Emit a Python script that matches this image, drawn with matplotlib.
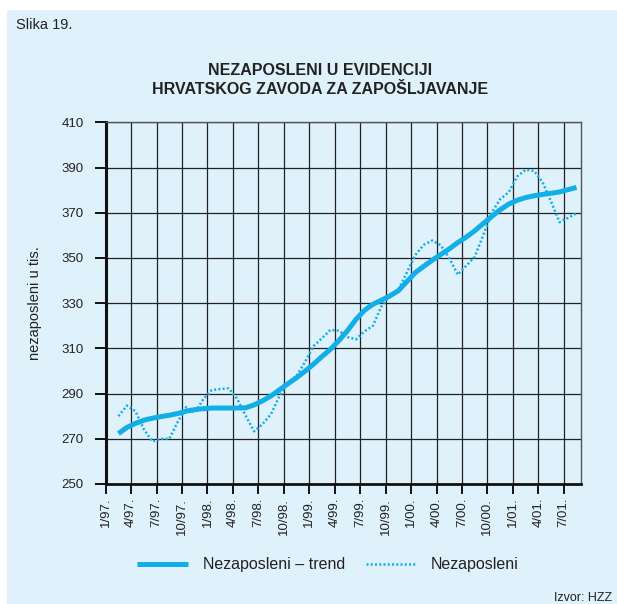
import matplotlib
matplotlib.use("Agg")
import matplotlib.pyplot as plt
import numpy as np
from matplotlib.patches import Rectangle

plt.rcParams["font.family"] = ["Liberation Sans", "DejaVu Sans"]

# monthly values, Feb 1997 - Aug 2001 (thousands)
unemployed = [
    280.0, 284.7, 282.2, 274.2, 268.8, 270.0, 270.0, 277.5, 284.0, 281.5,
    287.5, 291.5, 292.0, 292.3, 287.7, 280.2, 273.3, 276.5, 281.0, 289.0,
    295.0, 297.8, 304.0, 311.0, 314.5, 318.2, 317.8, 315.0, 314.0, 317.5,
    320.0, 328.5, 333.5, 336.0, 343.5, 351.3, 355.8, 357.7, 355.6, 350.0,
    342.6, 346.5, 350.5, 360.0, 370.0, 376.0, 379.0, 386.0, 389.0, 388.5,
    383.5, 375.0, 365.8, 367.7, 369.8,
]
trend = [
    272.3, 275.0, 276.8, 278.2, 279.1, 279.8, 280.4, 281.2, 282.2, 282.9,
    283.3, 283.6, 283.6, 283.6, 283.6, 283.7, 285.0, 286.8, 289.0, 291.7,
    294.4, 297.0, 299.9, 303.0, 306.4, 309.6, 313.5, 317.8, 322.8, 326.8,
    329.5, 331.3, 333.2, 335.5, 339.5, 343.5, 346.3, 349.0, 351.5, 354.0,
    356.8, 359.2, 362.0, 365.2, 368.3, 371.3, 373.8, 375.5, 376.7, 377.5,
    378.1, 378.6, 379.2, 380.2, 381.2,
]
first_month = 1  # months counted from Jan 1997 = 0
tick_labels = [
    "1/97.", "4/97.", "7/97.", "10/97.", "1/98.", "4/98.", "7/98.", "10/98.",
    "1/99.", "4/99.", "7/99.", "10/99.", "1/00.", "4/00.", "7/00.", "10/00.",
    "1/01.", "4/01.", "7/01.",
]
y_ticks = [250, 270, 290, 310, 330, 350, 370, 390, 410]

bg = "#dff1fb"
cyan = "#12aee8"

# months plotted at mid-month
months = first_month + np.arange(len(unemployed)) + 0.5

fig = plt.figure(figsize=(6.17, 6.04), dpi=100, facecolor="white")
panel = Rectangle((7 / 617, 0), 1, 1 - 10 / 604, transform=fig.transFigure,
                  facecolor=bg, edgecolor="none", zorder=-10)
fig.add_artist(panel)

ax = fig.add_axes([0.1713, 0.1987, 0.7699, 0.5988])
ax.set_facecolor(bg)

ax.plot(months, trend, color=cyan, lw=3.6, solid_capstyle="butt", zorder=4,
        label="Nezaposleni \u2013 trend")
ax.plot(months, unemployed, color=cyan, lw=1.8, ls=(0, (0.8, 0.9)),
        dash_capstyle="butt", zorder=3, label="Nezaposleni")

ax.set_xlim(0, 56)
ax.set_ylim(250, 410)
ax.set_xticks(np.arange(len(tick_labels)) * 3)
ax.set_xticklabels(tick_labels, rotation=90, fontsize=9.5, color="#222222")
ax.set_yticks(y_ticks)
ax.set_yticklabels([str(v) for v in y_ticks], fontsize=9.5, color="#222222")
ax.tick_params(axis="y", direction="out", length=8, width=1.3, pad=8)
ax.tick_params(axis="x", direction="out", length=7, width=1.3, pad=3)
ax.grid(True, color="#222222", lw=0.9)
ax.set_axisbelow(True)

ax.spines["left"].set_linewidth(2.2)
ax.spines["bottom"].set_linewidth(2.0)
for s in ("top", "right"):
    ax.spines[s].set_linewidth(1.0)
    ax.spines[s].set_color("#555555")
ax.spines["left"].set_color("#111111")
ax.spines["bottom"].set_color("#111111")

ax.set_ylabel("nezaposleni u tis.", fontsize=10.5, color="#222222", labelpad=14)

fig.text(16 / 617, 1 - 25 / 604, "Slika 19.", fontsize=10.5, color="#222222",
         va="center", ha="left")
fig.text(320 / 617, 1 - 80 / 604,
         "NEZAPOSLENI U EVIDENCIJI\nHRVATSKOG ZAVODA ZA ZAPOŠLJAVANJE",
         fontsize=11.5, fontweight="bold", color="#222222", ha="center",
         va="center", linespacing=1.35)
fig.text(612 / 617, 1 - 598 / 604, "Izvor: HZZ", fontsize=9, color="#222222",
         ha="right", va="center")

fig.legend(loc="center", bbox_to_anchor=(328 / 617, 1 - 565 / 604), ncol=2,
           frameon=False, fontsize=11.5, handlelength=3.2, handletextpad=0.9,
           columnspacing=1.3, labelcolor="#222222")

fig.savefig("out.png", dpi=100, facecolor="white")
